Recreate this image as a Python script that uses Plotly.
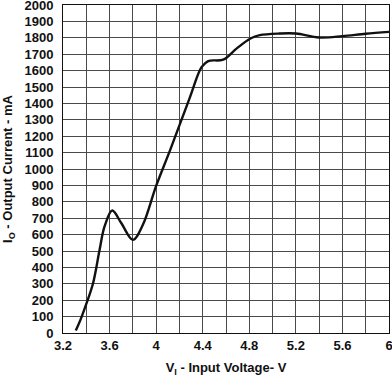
import plotly.graph_objects as go

vin = [3.31, 3.35, 3.40, 3.457, 3.514, 3.557, 3.623, 3.70, 3.80, 3.886, 4.00, 4.12,
       4.29, 4.39, 4.447, 4.576, 4.69, 4.81, 4.89, 5.06, 5.20, 5.40, 5.60, 5.80, 6.00]
iout = [15, 80, 177, 300, 506, 650, 747, 671, 568, 660, 897, 1115,
        1437, 1621, 1658, 1667, 1734, 1796, 1816, 1826, 1826, 1802, 1810, 1825, 1836]

x_ticks = [3.2, 3.6, 4.0, 4.4, 4.8, 5.2, 5.6, 6.0]
x_labels = ["3.2", "3.6", "4", "4.4", "4.8", "5.2", "5.6", "6"]
y_ticks = list(range(0, 2001, 100))

fig = go.Figure()
fig.add_trace(go.Scatter(x=vin, y=iout, mode="lines", hoverinfo="skip",
                         line=dict(color="#111111", width=2.4, shape="spline", smoothing=1.0)))

font = dict(family="Liberation Sans, Arial, sans-serif", size=13, color="#111111")
fig.update_layout(
    width=392, height=379,
    margin=dict(l=63, r=3, t=5, b=46),
    paper_bgcolor="white", plot_bgcolor="white",
    showlegend=False,
    font=font,
)
fig.update_xaxes(
    range=[3.2, 6.0], tickvals=x_ticks, ticktext=[f"<b>{t}</b>" for t in x_labels],
    showgrid=True, gridcolor="#4a4a4a", gridwidth=1,
    minor=dict(dtick=0.2, tick0=3.2, showgrid=True, gridcolor="#4a4a4a", gridwidth=1),
    showline=True, linecolor="#111111", linewidth=1, mirror=True,
    ticks="", zeroline=False, ticklabelstandoff=0, ticklabeloverflow="allow",
    automargin=False,
    title=dict(text="<b>V<sub>I</sub> - Input Voltage- V</b>", standoff=11,
               font=dict(size=13)),
)
fig.update_yaxes(
    range=[0, 2000], tickvals=y_ticks,
    ticktext=[f"<b>{v}</b>" for v in y_ticks],
    showgrid=True, gridcolor="#4a4a4a", gridwidth=1,
    showline=True, linecolor="#111111", linewidth=1, mirror=True,
    ticks="", zeroline=False, ticklabelstandoff=6, ticklabeloverflow="allow",
    automargin=False,
    title=dict(text="<b>I<sub>O</sub> - Output Current - mA</b>", standoff=14,
               font=dict(size=13)),
)
fig.write_html("out.html", config={"displayModeBar": False},
               post_script="document.body.style.margin='0';")
